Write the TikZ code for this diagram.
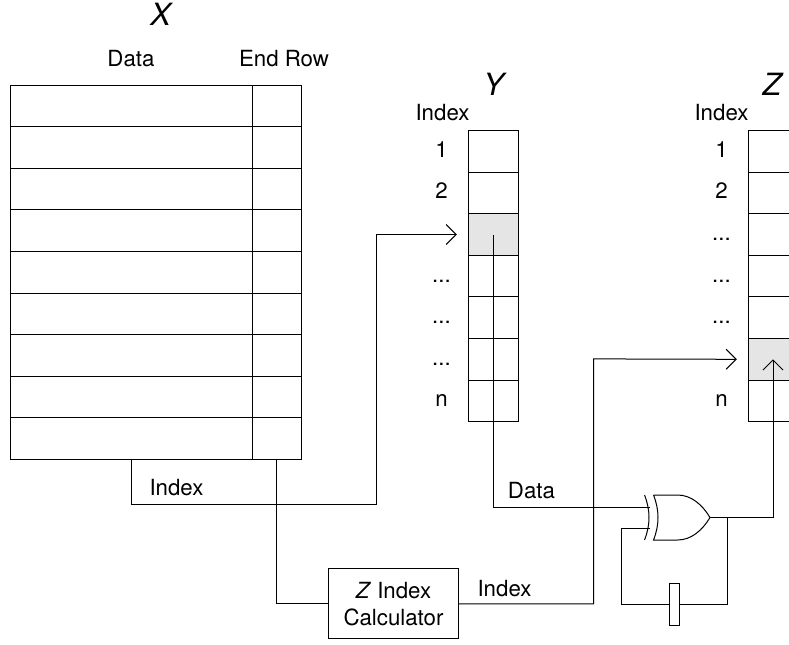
\documentclass[tikz,border=0pt]{standalone}
\usepackage{fontspec}
\setmainfont{TeX Gyre Heros}
\usetikzlibrary{arrows.meta}
\tikzset{
  >={Straight Barb[length=7.5pt,width=15pt]},
  every path/.append style={line width=.75pt},
  rowcell/.style={draw,anchor=north west,inner sep=0pt,minimum height=31.2pt},
  stackcell/.style={rowcell,minimum width=37.5pt},
  hotcell/.style={fill=black!10},
  lbl/.style={anchor=base,inner sep=0pt,font=\fontsize{16.7}{20.5}\selectfont},
  titlelbl/.style={anchor=base,inner sep=0pt,font=\fontsize{23}{27}\selectfont\itshape}
}
\newcommand{\rowdots}{...}
\newcommand{\stackcells}[4]{
  \foreach \x [count=\i] in {#4}{
    \pgfmathsetmacro{\rowtop}{130+41.6*(\i-1)}
    \pgfmathsetmacro{\rowbase}{\rowtop+27.3}
    \ifnum\i=#3
      \def\rowstyle{hotcell}
    \else
      \def\rowstyle{}
    \fi
    \node [stackcell,\rowstyle] (#1-\i) at (#2,\rowtop) {};
    \ifx\x\empty
    \else
      \node [lbl] (#1-lbl-\i) at (#2-26,\rowbase) {\x};
    \fi
  }
}

\begin{document}
\begin{tikzpicture}[x=.75pt,y=-.75pt]
    \useasboundingbox (.5,0) rectangle (789.5,644);
    \node [titlelbl] (Xtitle) at (161,25.7) {X};
    \node [lbl] (Xdata) at (131.5,66) {Data};
    \node [lbl] (Xend) at (284.5,66) {End Row};
    \foreach \i in {1,...,9}{
      \pgfmathsetmacro{\rowtop}{84.5+41.6*(\i-1)}
      \node [rowcell,minimum width=180.75pt] (D\i) at (11,\rowtop) {};
      \node [rowcell,minimum width=36.75pt] (E\i) at (252,\rowtop) {};
    }
    \node [titlelbl] (Ytitle) at (494,95) {Y};
    \node [lbl] (Yindex) at (443,120) {Index};
    \stackcells{Y}{468}{3}{1,2,,\rowdots,\rowdots,\rowdots,n}
    \node [titlelbl] (Ztitle) at (772.5,95) {Z};
    \node [lbl] (Zindex) at (722,120) {Index};
    \stackcells{Z}{748}{6}{1,2,\rowdots,\rowdots,\rowdots,,n}
    \node [draw,align=center,inner sep=0pt,minimum width=97.5pt,minimum height=52.5pt,font=\fontsize{16.7}{20.5}\selectfont] (calc) at (394,603.75) {\textit{Z} Index\\Calculator};
    \node [draw,inner sep=0pt,minimum width=7.5pt,minimum height=32pt] (reg) at (675,604.5) {};
    \draw (654,495) -- (678,495) .. controls (692,495) and (703,505) .. (710.5,517.5) .. controls (703,530) and (692,540) .. (678,540) -- (654,540) .. controls (660,525) and (660,510) .. (654,495);
    \draw (645,495) .. controls (651,510) and (651,525) .. (645,540);
    \coordinate (ina) at (650,507);
    \coordinate (inb) at (650,528);
    \coordinate (out) at (710.5,517.5);
    \coordinate (tap) at (728,517.5);
    \coordinate (Dout) at (132,459);
    \coordinate (Eout) at (277,459);
    \draw [->] (Dout) |- (377,504) |- ([xshift=-8pt]Y-3.west);
    \draw (Eout) |- (calc.west);
    \draw [->] (calc.east) -| (594,358.9) -- ([xshift=-8pt]Z-6.west);
    \draw (Y-3.center) |- (ina);
    \draw (tap) |- (reg.east);
    \draw (reg.west) -| (622,528) -- (inb);
    \draw [->] (out) -| (Z-6.center);
    \node [lbl] (Xlink) at (177,495) {Index};
    \node [lbl] (Ylink) at (532,498) {Data};
    \node [lbl] (Zlink) at (505,596) {Index};
\end{tikzpicture}
\end{document}
